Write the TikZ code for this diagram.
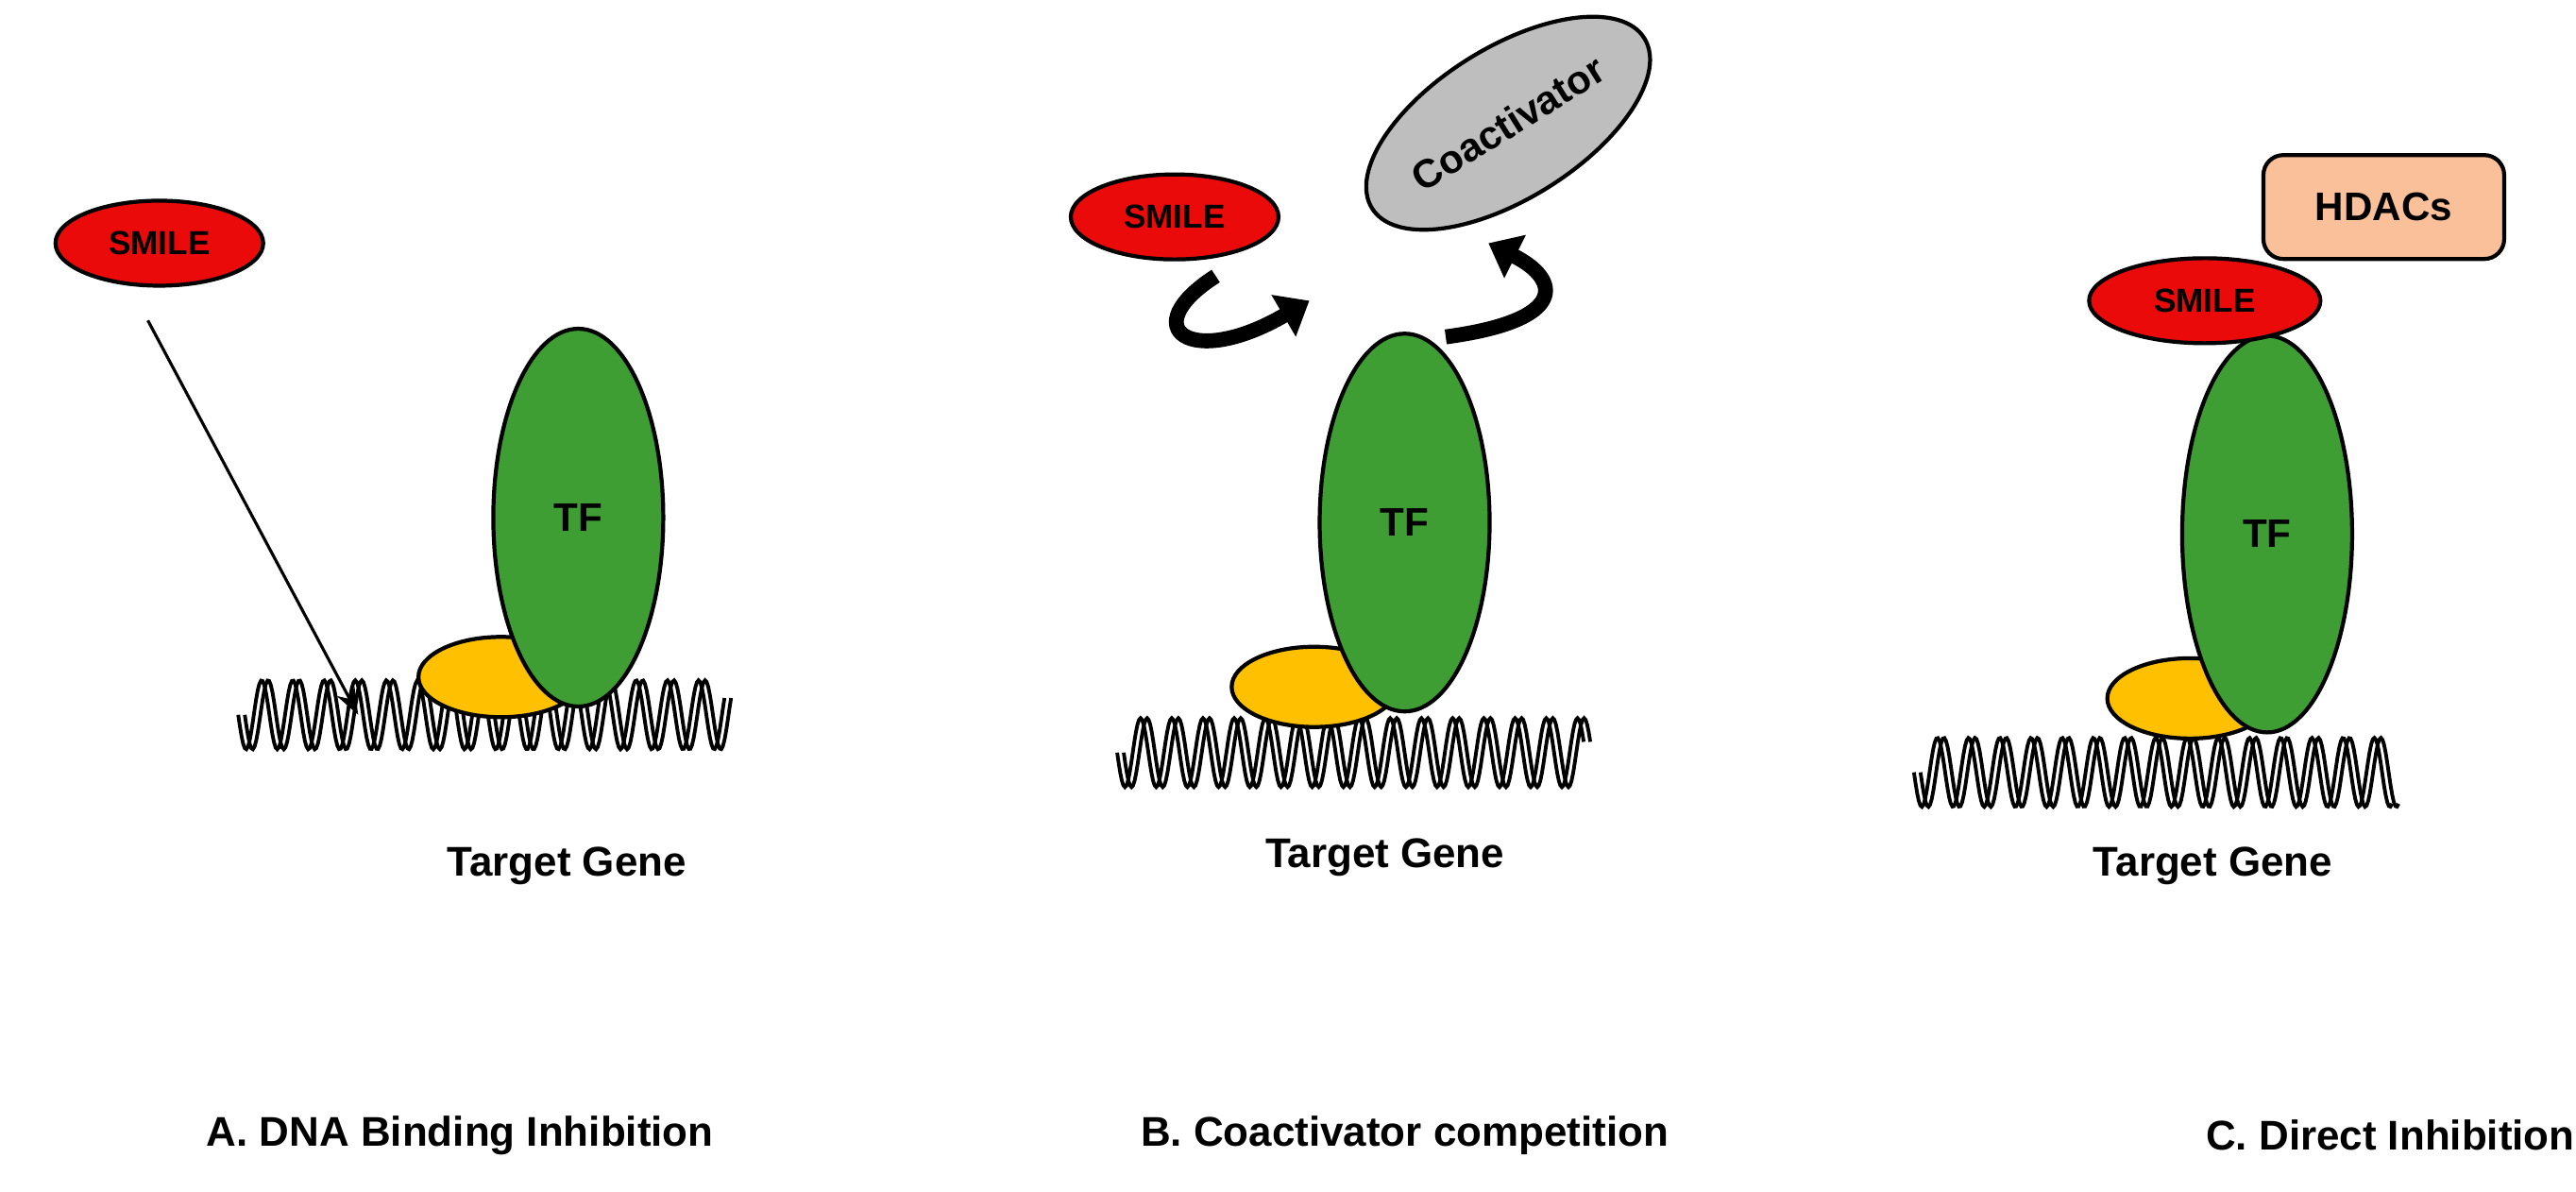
\documentclass[tikz,border=0pt]{standalone}
\usepackage{fontspec}
\setmainfont{Liberation Sans}
\usetikzlibrary{shapes.geometric,arrows.meta}
\definecolor{smilered}{RGB}{235,10,10}
\definecolor{tfgreen}{RGB}{62,158,52}
\definecolor{dnayellow}{RGB}{255,192,0}
\definecolor{coagrey}{RGB}{190,190,190}
\definecolor{hdacpeach}{RGB}{250,192,154}
\tikzset{
    blob/.style={ellipse, draw=black, line width=1.2pt, inner sep=0pt, font=\bfseries},
    smile/.style={blob, fill=smilered, minimum width=#1, minimum height=9mm, font=\bfseries\fontsize{10}{12}\selectfont},
    tf/.style={blob, fill=tfgreen, minimum width=18mm, minimum height=40mm, font=\bfseries\fontsize{12}{14}\selectfont},
    anchorprot/.style={blob, fill=dnayellow, minimum width=17.5mm, minimum height=8.5mm},
    caption/.style={font=\bfseries\fontsize{12.5}{15}\selectfont},
    swoop/.style={line width=4.5pt, -{Triangle[length=9pt,width=14pt]}},
}
% DNA helix: #1 = left x, #2 = length, #3 = middle y
\newcommand{\helix}[3]{%
    \begin{scope}[shift={(#1,#3)}]
        \draw[line width=1.1pt] plot[domain=0:#2, samples=300] (\x, {21*sin(\x*18.95)});
        \draw[line width=1.1pt] plot[domain=4:#2+4, samples=300] (\x, {21*sin((\x-4)*18.95)});
    \end{scope}
}

\begin{document}
\begin{tikzpicture}[x=0.174mm, y=-0.174mm]
    \useasboundingbox (0,0) rectangle (1568,725);
    % A. DNA binding inhibition
    \helix{145}{296}{435}
    \node[anchorprot] (yelA) at (305,412) {};
    \node[tf] (tfA) at (352,315) {TF};
    \node[smile=22mm] (smileA) at (97,148) {SMILE};
    \coordinate (startA) at (90,195);
    \coordinate (dnaA) at (218,435);
    \draw[line width=0.9pt, -{Stealth[length=8pt]}] (startA) -- (dnaA);
    \node[caption] (geneA) at (345,527) {Target Gene};
    \node[caption] (capA) at (280,691) {A. DNA Binding Inhibition};
    % B. Coactivator competition
    \helix{680}{284}{458}
    \node[anchorprot] (yelB) at (800,418) {};
    \node[tf] (tfB) at (855,318) {TF};
    \node[smile=22mm] (smileB) at (715,132) {SMILE};
    \node[blob, fill=coagrey, minimum width=34mm, minimum height=16mm, rotate=32,
        font=\bfseries\fontsize{12}{14}\selectfont] (coa) at (918,75) {Coactivator};
    \coordinate (inB) at (797,183);
    \coordinate (outB) at (880,205);
    \draw[swoop] (740,168) .. controls (690,200) and (725,225) .. (inB);
    \draw[swoop] (outB) .. controls (955,195) and (950,170) .. (906,148);
    \node[caption] (geneB) at (843,522) {Target Gene};
    \node[caption] (capB) at (855,691) {B. Coactivator competition};
    % C. Direct inhibition
    \helix{1165}{291}{470}
    \node[anchorprot] (yelC) at (1333,425) {};
    \node[tf, minimum height=42mm] (tfC) at (1380,325) {TF};
    \node[smile=24.5mm] (smileC) at (1342,183) {SMILE};
    \node[draw=black, line width=1.2pt, fill=hdacpeach, rounded corners=6pt,
        minimum width=25.5mm, minimum height=11mm, font=\bfseries\fontsize{12}{14}\selectfont]
        (hdac) at (1451,126) {HDACs};
    \node[caption] (geneC) at (1347,527) {Target Gene};
    \node[caption] (capC) at (1455,691) {C. Direct Inhibition};
\end{tikzpicture}
\end{document}
